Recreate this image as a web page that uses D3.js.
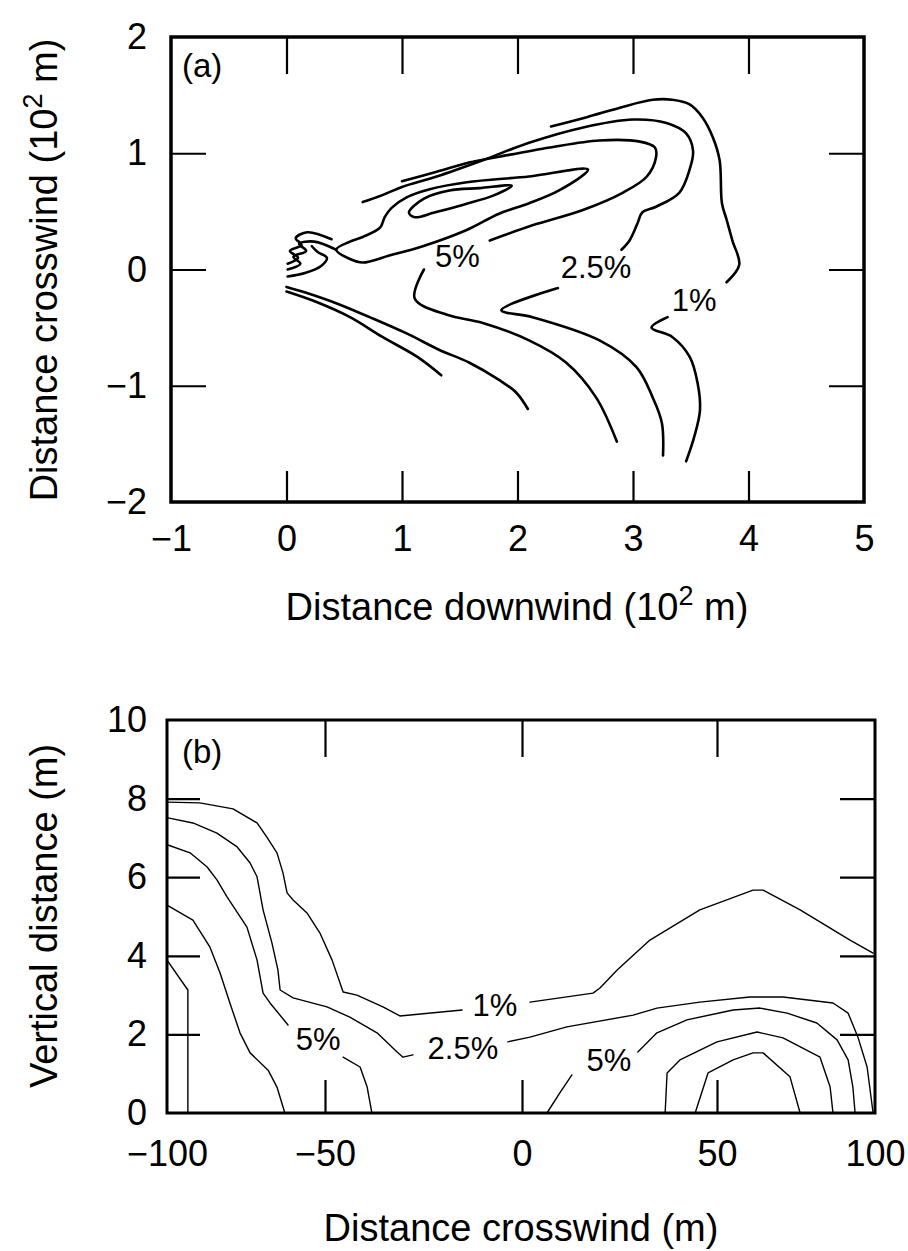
<!DOCTYPE html>
<html>
<head>
<meta charset="utf-8">
<script src="https://cdn.jsdelivr.net/npm/d3@7"></script>
<style>
  body { margin: 0; background: #fff; }
  svg text { font-family: "Liberation Sans", Arial, sans-serif; fill: #000; }
</style>
</head>
<body>
<svg id="chart" width="908" height="1251"></svg>
<script>
//:\\\ panel (a) : plume seen from above //:\\\

var aXTicks = [-1, 0, 1, 2, 3, 4, 5];
var aYTicks = [-2, -1, 0, 1, 2];
var aXInner = [0, 1, 2, 3, 4];
var aYInner = [-1, 0, 1];

// contour lines, [downwind, crosswind] in 10^2 m
var aLoop = [[1.06,0.49],[1.19,0.61],[1.41,0.68],[1.67,0.70],[1.95,0.72],[1.80,0.64],[1.54,0.56],[1.28,0.49],[1.11,0.45]];
var a10 = [[0.43,0.17],[0.55,0.24],[0.66,0.28],[0.81,0.36],[0.85,0.45],[0.91,0.53],[1.04,0.62],[1.24,0.69],[1.56,0.75],[2.10,0.80],[2.61,0.86],
           [2.36,0.68],[2.10,0.57],[1.84,0.48],[1.56,0.34],[1.18,0.20],[0.89,0.12],[0.66,0.06],[0.55,0.09]];
var aZig1 = [[0.01,0.05],[0.10,0.10],[0.03,0.16],[0.13,0.21],[0.08,0.27],[0.18,0.32],[0.39,0.26]];
var aZig2 = [[0.01,0.00],[0.12,0.05],[0.06,0.11],[0.17,0.16],[0.11,0.22],[0.24,0.24],[0.43,0.17]];
var aZig3 = [[0.01,-0.06],[0.16,-0.03],[0.30,0.03],[0.35,0.10],[0.27,0.15],[0.22,0.20]];
var aLow1 = [[0,-0.15],[0.17,-0.20],[0.43,-0.29],[0.72,-0.41],[1.04,-0.55],[1.32,-0.69],[1.58,-0.80],[1.84,-0.95],[1.99,-1.06],[2.09,-1.20]];
var aLow2 = [[0,-0.19],[0.26,-0.28],[0.55,-0.41],[0.83,-0.58],[1.13,-0.75],[1.34,-0.91]];
var a5Up = [[1.00,0.76],[1.30,0.84],[1.58,0.92],[1.84,0.97],[2.28,1.05],[2.71,1.11],[3.06,1.10],[3.19,1.05],[3.20,0.97],[3.12,0.80],[2.91,0.66],[2.56,0.51],[2.13,0.38],[1.76,0.25]];
var a5Low = [[1.19,0.00],[1.11,-0.25],[1.39,-0.39],[1.70,-0.46],[2.10,-0.61],[2.42,-0.80],[2.68,-1.10],[2.86,-1.48]];
var a25Up = [[0.66,0.58],[0.83,0.64],[1.00,0.71],[1.30,0.80],[1.70,0.94],[2.10,1.09],[2.56,1.22],[3.00,1.29],[3.29,1.26],[3.46,1.17],[3.52,1.02],
             [3.49,0.86],[3.40,0.66],[3.20,0.54],[3.08,0.49],[3.04,0.40],[2.97,0.25],[2.90,0.17]];
var a25Low = [[2.35,-0.16],[1.86,-0.35],[2.13,-0.41],[2.71,-0.61],[3.03,-0.84],[3.17,-1.10],[3.25,-1.32],[3.26,-1.60]];
var a1Up = [[2.29,1.23],[2.60,1.31],[2.88,1.39],[3.17,1.46],[3.34,1.46],[3.49,1.42],[3.60,1.31],[3.69,1.14],[3.75,0.94],[3.77,0.57],[3.81,0.43],[3.86,0.25],[3.92,0.04],[3.81,-0.11]];
var a1Low = [[3.30,-0.41],[3.16,-0.50],[3.34,-0.58],[3.49,-0.75],[3.56,-0.98],[3.58,-1.21],[3.53,-1.44],[3.46,-1.65]];

var aLabels = [
  { text: "5%",   x: 1.48, y: 0.12 },
  { text: "2.5%", x: 2.68, y: 0.02 },
  { text: "1%",   x: 3.53, y: -0.26 }
];

//:\\\ panel (b) : vertical cross section //:\\\

var bXTicks = [-100, -50, 0, 50, 100];
var bYTicks = [0, 2, 4, 6, 8, 10];
var bXInner = [-50, 0, 50];
var bYInner = [2, 4, 6, 8];

// contour lines, [crosswind m, height m]
var b1Left = [[-100,7.91],[-89.6,7.89],[-79.1,7.74],[-71.5,7.38],[-68.4,7.02],[-65.2,6.62],[-63.3,6.11],[-62.0,5.60],[-60.1,5.42],[-55.7,5.09],[-51.6,4.58],
              [-48.2,3.89],[-45.4,3.08],[-41.9,3.00],[-35.3,2.70],[-31.0,2.47],[-15.2,2.62]];
var b1Right = [[2.05,2.82],[18.2,3.05],[20.0,3.18],[24.4,3.64],[32.8,4.40],[45.6,5.17],[61.4,5.67],[64.6,5.67],[76.3,5.17],[92.1,4.40],[99.4,4.07]];
var b25Left = [[-99.7,7.51],[-91.8,7.38],[-84.2,7.12],[-77.8,6.77],[-73.7,6.36],[-71.5,6.01],[-69.6,5.17],[-66.8,4.33],[-64.9,3.64],[-64.2,3.13],
               [-60.1,2.93],[-49.5,2.70],[-43.7,2.44],[-36.8,2.04],[-31.7,1.55],[-30.2,1.42],[-27.7,1.48]];
var b25Right = [[-3.6,1.81],[2.05,1.93],[11.5,2.19],[28.5,2.49],[34.6,2.67],[45.6,2.82],[60.4,2.95],[70.9,2.95],[86.7,2.80],[91.5,2.54],
                [94.6,1.93],[97.5,1.17],[99.4,0]];
var b5Left = [[-99.7,6.82],[-92.7,6.62],[-87.3,6.26],[-84.2,5.93],[-81.0,5.50],[-74.7,4.73],[-71.5,3.89],[-69.6,3.05],[-67.4,2.80],[-61.7,2.24]];
var b5LeftFoot = [[-45.4,1.42],[-41.1,1.17],[-39.3,0.66],[-38.1,0]];
var b5MidFoot = [[6.4,0],[9.7,0.51],[12.8,0.97]];
var b5Right = [[29.7,1.55],[34.6,2.04],[42.3,2.37],[55.1,2.62],[63.6,2.67],[72.2,2.54],[81.6,2.29],[88.0,1.86],[91.5,1.35],[93.0,0.66],[93.7,0]];
var b10Left = [[-100,5.29],[-91.8,4.91],[-86.4,4.22],[-83.2,3.56],[-80.1,2.80],[-76.9,2.04],[-73.7,1.53],[-68.0,1.09],[-65.2,0.66],[-62.7,0]];
var b10Right = [[36.7,0],[37.2,1.02],[40.5,1.35],[50.0,1.81],[62.7,2.06],[70.9,1.91],[82.6,1.42],[85.8,0.66],[86.7,0]];
var b20Left = [[-100,3.89],[-93.4,3.13],[-93.4,0]];
var b20Right = [[44.4,0],[47.7,1.02],[55.1,1.35],[61.4,1.53],[64.6,1.53],[73.1,0.92],[76.3,0]];

var bLabels = [
  { text: "1%",   x: -6.9,  y: 2.75 },
  { text: "2.5%", x: -15.0, y: 1.65 },
  { text: "5%",   x: -52.2, y: 1.88 },
  { text: "5%",   x: 22.3,  y: 1.35 }
];

var svg = d3.select("#chart");
var fmt = d3.format("d");   // gives the long minus sign

// scales (the printed x axis of (b) is not evenly spaced, follow the ticks)
var xA = d3.scaleLinear().domain([-1, 5]).range([171, 864]);
var yA = d3.scaleLinear().domain([-2, 2]).range([502, 37]);
var xB = d3.scaleLinear().domain(bXTicks).range([167, 325, 522, 717, 875]);
var yB = d3.scaleLinear().domain([0, 10]).range([1113, 720]);

function styleAxis(g, fontSize) {
  g.select(".domain").remove();
  g.attr("font-family", null).attr("font-size", null);
  g.selectAll(".tick line").attr("stroke", "#000").attr("stroke-width", 2.2);
  g.selectAll(".tick text").style("font-size", fontSize + "px").attr("fill", "#000");
}

function drawFrame(x, y, xTicks, yTicks, xInner, yInner, len, pad, frameW) {
  var x0 = x.range()[0], x1 = x.range()[x.range().length - 1];
  var y0 = y.range()[0], y1 = y.range()[1];

  // labelled bottom and left axes
  svg.append("g")
     .attr("transform", "translate(0," + y0 + ")")
     .call(d3.axisBottom(x).tickValues(xTicks).tickFormat(fmt).tickSizeOuter(0).tickSizeInner(0).tickPadding(pad.bottom))
     .call(function(g) { styleAxis(g, 36); });
  svg.append("g")
     .attr("transform", "translate(" + x0 + ",0)")
     .call(d3.axisLeft(y).tickValues(yTicks).tickFormat(fmt).tickSizeOuter(0).tickSizeInner(0).tickPadding(pad.left))
     .call(function(g) { styleAxis(g, 36); });

  // inward ticks on all four sides
  var sides = [
    [d3.axisBottom(x).tickValues(xInner).tickSizeInner(-len.bottom), "translate(0," + y0 + ")"],
    [d3.axisTop(x).tickValues(xInner).tickSizeInner(-len.top), "translate(0," + y1 + ")"],
    [d3.axisLeft(y).tickValues(yInner).tickSizeInner(-len.left), "translate(" + x0 + ",0)"],
    [d3.axisRight(y).tickValues(yInner).tickSizeInner(-len.right), "translate(" + x1 + ",0)"]
  ];
  sides.forEach(function(s) {
    svg.append("g")
       .attr("transform", s[1])
       .call(s[0].tickSizeOuter(0).tickFormat(""))
       .call(function(g) { styleAxis(g, 36); });
  });

  svg.append("rect")
     .attr("x", x0).attr("y", y1)
     .attr("width", x1 - x0).attr("height", y0 - y1)
     .attr("fill", "none").attr("stroke", "#000").attr("stroke-width", frameW);
}

function drawLines(lines, x, y, curve, width) {
  var line = d3.line()
               .x(function(d) { return x(d[0]); })
               .y(function(d) { return y(d[1]); })
               .curve(curve);
  lines.forEach(function(l) {
    svg.append("path")
       .attr("d", line(l))
       .attr("fill", "none")
       .attr("stroke", "#000")
       .attr("stroke-width", width)
       .attr("stroke-linejoin", "round")
       .attr("stroke-linecap", "round");
  });
}

function drawLabels(labels, x, y, size) {
  svg.selectAll(null)
     .data(labels)
     .enter()
     .append("text")
     .attr("x", function(d) { return x(d.x); })
     .attr("y", function(d) { return y(d.y); })
     .attr("dy", "0.36em")
     .attr("text-anchor", "middle")
     .style("font-size", size + "px")
     .text(function(d) { return d.text; });
}

function axisTitle(tx, ty, rotate, parts) {
  var t = svg.append("text")
             .attr("transform", "translate(" + tx + "," + ty + ")" + (rotate ? " rotate(-90)" : ""))
             .attr("text-anchor", "middle")
             .style("font-size", "38px");
  parts.forEach(function(p) {
    var ts = t.append("tspan").text(p.t);
    if (p.sup) ts.style("font-size", "27px").attr("dy", -15);
    if (p.down) ts.attr("dy", 15);
  });
}

// ---- panel (a)
drawFrame(xA, yA, aXTicks, aYTicks, aXInner, aYInner,
          { bottom: 31, top: 37, left: 35, right: 35 }, { bottom: 23, left: 24 }, 3.5);

var smooth = d3.curveCatmullRom.alpha(0.5);
drawLines([aLoop, a10], xA, yA, d3.curveCatmullRomClosed.alpha(0.5), 2.6);
drawLines([aZig1, aZig2, aZig3, aLow1, aLow2, a5Up, a5Low, a25Up, a25Low, a1Up, a1Low], xA, yA, smooth, 2.6);
drawLabels(aLabels, xA, yA, 31);

svg.append("text").attr("x", 182).attr("y", 77).style("font-size", "33px").text("(a)");
axisTitle(57, 270, true, [{ t: "Distance crosswind (10" }, { t: "2", sup: true }, { t: " m)", down: true }]);
axisTitle(517, 620, false, [{ t: "Distance downwind (10" }, { t: "2", sup: true }, { t: " m)", down: true }]);

// ---- panel (b)
drawFrame(xB, yB, bXTicks, bYTicks, bXInner, bYInner,
          { bottom: 33, top: 37, left: 33, right: 35 }, { bottom: 27, left: 20 }, 3);

drawLines([b1Left, b1Right, b25Left, b25Right, b5Left, b5LeftFoot, b5MidFoot, b5Right, b10Left, b10Right, b20Left, b20Right],
          xB, yB, d3.curveLinear, 1.4);
drawLabels(bLabels, xB, yB, 31);

svg.append("text").attr("x", 182).attr("y", 763).style("font-size", "33px").text("(b)");
axisTitle(57, 916, true, [{ t: "Vertical distance (m)" }]);
axisTitle(521, 1241, false, [{ t: "Distance crosswind (m)" }]);
</script>
</body>
</html>
